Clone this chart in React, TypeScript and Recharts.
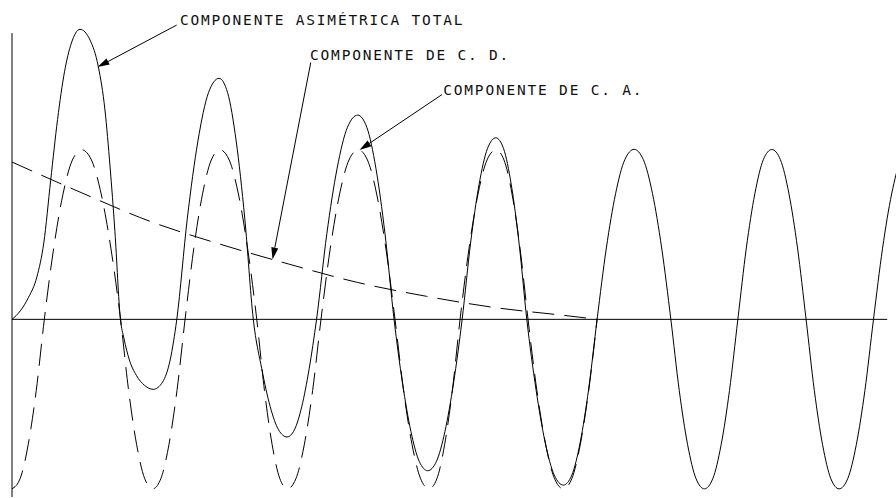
import React from 'react';
import { LineChart, Line, XAxis, YAxis, ReferenceLine } from 'recharts';

// Time axis in cycles of the fundamental; current in % of the AC peak.

// Asymmetrical (total) short-circuit current
const totalT = [
  0, 0.06, 0.12, 0.18, 0.23, 0.28, 0.33, 0.38, 0.43, 0.492,
  0.565, 0.625, 0.673, 0.71, 0.745, 0.785,
  0.81, 0.85, 0.9, 0.96, 1.023, 1.09, 1.145, 1.193,
  1.2695, 1.346, 1.4225, 1.499, 1.561, 1.623, 1.685, 1.747,
  1.808, 1.869, 1.93, 1.991, 2.0445, 2.098, 2.1515, 2.205,
  2.2795, 2.354, 2.4285, 2.503, 2.5688, 2.6345, 2.7003, 2.766,
  2.827, 2.888, 2.949, 3.01, 3.0723, 3.1345, 3.1968, 3.259,
  3.32, 3.381, 3.442, 3.503, 3.559, 3.615, 3.671, 3.727,
  3.7933, 3.8595, 3.9258, 3.992, 4.053, 4.114, 4.175, 4.236,
  4.303, 4.37, 4.437, 4.504, 4.5705, 4.637, 4.7035, 4.77,
  4.8308, 4.8915, 4.9523, 5.013, 5.0735, 5.134, 5.1945, 5.255,
  5.3165, 5.378, 5.4395, 5.501, 5.563, 5.625, 5.687, 5.749,
  5.8088, 5.8685, 5.9283, 5.988, 6.0503, 6.1125, 6.1748, 6.237,
  6.3028, 6.3685, 6.4343, 6.5,
];
const totalV = [
  0, 5, 13, 25, 45, 82, 118, 146, 163, 171.1,
  164.8, 149, 123.5, 90, 52, 0,
  -11, -24, -33, -39, -41.3, -37, -24, 0,
  59.7, 105.2, 133.7, 142.2, 133.7, 105.2, 59.7, 0,
  -29.1, -51.4, -65.2, -69.4, -65.2, -51.4, -29.1, 0,
  50.6, 89.2, 113.3, 120.5, 113.3, 89.2, 50.6, 0,
  -37.5, -66.1, -83.9, -89.3, -83.9, -66.1, -37.5, 0,
  45, 79.3, 100.7, 107.1, 100.7, 79.3, 45, 0,
  -41.1, -72.4, -91.9, -97.8, -91.9, -72.4, -41.1, 0,
  42.1, 74.2, 94.3, 100.3, 94.3, 74.2, 42.1, 0,
  -42, -74, -94, -100, -94, -74, -42, 0,
  42.1, 74.1, 94.2, 100.2, 94.2, 74.1, 42.1, 0,
  -42, -74, -94, -100, -94, -74, -42, 0,
  42, 74, 94, 100,
];

// Symmetrical AC component
const acT = [
  0, 0.0585, 0.117, 0.1755, 0.234,
  0.3018, 0.3695, 0.4373, 0.505, 0.5753, 0.6455, 0.7158, 0.786,
  0.8443, 0.9025, 0.9608, 1.019, 1.0775, 1.136, 1.1945, 1.253,
  1.3163, 1.3795, 1.4428, 1.506, 1.5725, 1.639, 1.7055, 1.772,
  1.8278, 1.8835, 1.9393, 1.995, 2.0555, 2.116, 2.1765, 2.237,
  2.3045, 2.372, 2.4395, 2.507, 2.5735, 2.64, 2.7065, 2.773,
  2.8348, 2.8965, 2.9583, 3.02, 3.076, 3.132, 3.188, 3.244,
  3.309, 3.374, 3.439, 3.504, 3.562, 3.62, 3.678, 3.736,
  3.8, 3.864, 3.928, 3.992, 4.053, 4.114, 4.175, 4.236,
];
const acV = [
  -100, -94, -74, -42, 0,
  42, 74, 94, 100, 94, 74, 42, 0,
  -42, -74, -94, -100, -94, -74, -42, 0,
  42, 74, 94, 100, 94, 74, 42, 0,
  -42, -74, -94, -100, -94, -74, -42, 0,
  42, 74, 94, 100, 94, 74, 42, 0,
  -42, -74, -94, -100, -94, -74, -42, 0,
  42, 74, 94, 100, 94, 74, 42, 0,
  -42, -74, -94, -100, -94, -74, -42, 0,
];

// Decaying DC component
const dcT = [0, 0.5, 1, 1.5, 2, 2.5, 3, 3.5, 4, 4.24];
const dcV = [92.8, 74.8, 57.8, 44.5, 32.7, 21.8, 13.6, 6.9, 2.3, 0];

const zip = (ts: number[], vs: number[]) => ts.map((t, i) => ({ t, v: vs[i] }));
const totalData = zip(totalT, totalV);
const acData = zip(acT, acV);
const dcData = zip(dcT, dcV);

// Callouts: text anchor -> arrow tip on the curve (data coordinates)
const callouts = [
  { text: 'COMPONENTE ASIMÉTRICA TOTAL', from: { x: 1.192, y: 173.6 }, to: { x: 0.619, y: 148.8 }, dx: 3.3, dy: 0 },
  { text: 'COMPONENTE DE C. D.', from: { x: 2.163, y: 151.5 }, to: { x: 1.886, y: 35.3 }, dx: -0.7, dy: -2.5 },
  { text: 'COMPONENTE DE C. A.', from: { x: 3.113, y: 132.6 }, to: { x: 2.516, y: 99.9 }, dx: 1.3, dy: 0 },
];

const W = 896;
const H = 498;

type LeaderProps = { x1?: number; y1?: number; x2?: number; y2?: number; text: string; dx: number; dy: number };

const Leader = ({ x1 = 0, y1 = 0, x2 = 0, y2 = 0, text, dx, dy }: LeaderProps) => {
  const ang = Math.atan2(y2 - y1, x2 - x1);
  const len = 12;
  const half = 3.5;
  const bx = x2 - len * Math.cos(ang);
  const by = y2 - len * Math.sin(ang);
  const px = -Math.sin(ang) * half;
  const py = Math.cos(ang) * half;
  return (
    <g>
      <line x1={x1} y1={y1} x2={bx} y2={by} stroke="#000" strokeWidth={1} />
      <polygon points={`${x2},${y2} ${bx + px},${by + py} ${bx - px},${by - py}`} fill="#000" />
      <text
        x={x1 + dx}
        y={y1 + dy}
        fontFamily="'DejaVu Sans Mono', monospace"
        fontSize={14.5}
        letterSpacing={1.8}
        fill="#111"
      >
        {text}
      </text>
    </g>
  );
};

export default function App() {
  return (
    <div style={{ position: 'absolute', left: 0, top: 0, width: W, height: H, background: '#fff' }}>
      <LineChart width={W} height={H} margin={{ top: 0, right: 0, bottom: 0, left: 12 }}>
        <XAxis dataKey="t" type="number" domain={[0, 6.4]} allowDataOverflow hide />
        <YAxis type="number" domain={[-105.4, 188.4]} allowDataOverflow hide />
        <ReferenceLine segment={[{ x: 0, y: 168.9 }, { x: 0, y: -104.8 }]} stroke="#000" strokeWidth={1} />
        <ReferenceLine segment={[{ x: 0, y: 0 }, { x: 6.336, y: 0 }]} stroke="#000" strokeWidth={1} />
        <Line
          data={dcData}
          dataKey="v"
          type="monotone"
          stroke="#000"
          strokeWidth={1}
          strokeDasharray="22 10"
          dot={false}
          activeDot={false}
          isAnimationActive={false}
        />
        <Line
          data={acData}
          dataKey="v"
          type="monotone"
          stroke="#000"
          strokeWidth={1}
          strokeDasharray="22 10"
          dot={false}
          activeDot={false}
          isAnimationActive={false}
        />
        <Line
          data={totalData}
          dataKey="v"
          type="monotone"
          stroke="#000"
          strokeWidth={1}
          dot={false}
          activeDot={false}
          isAnimationActive={false}
        />
        {callouts.map((c) => (
          <ReferenceLine
            key={c.text}
            segment={[c.from, c.to]}
            shape={(p: any) => <Leader x1={p.x1} y1={p.y1} x2={p.x2} y2={p.y2} text={c.text} dx={c.dx} dy={c.dy} />}
          />
        ))}
      </LineChart>
    </div>
  );
}
